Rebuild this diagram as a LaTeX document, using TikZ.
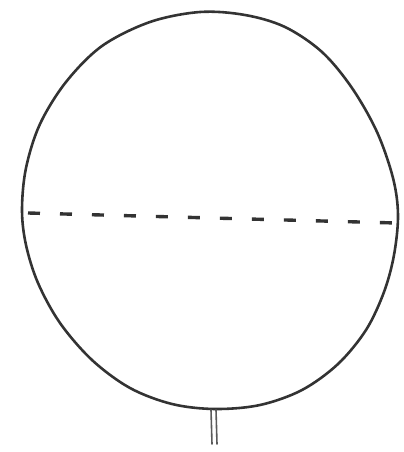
\documentclass[tikz,border=0pt]{standalone}
\usepackage{tikz}
\definecolor{cink}{HTML}{333333}
\definecolor{cstem}{HTML}{5A5A5A}
\tikzset{
  outline/.style={draw=cink, line width=2.6pt, line join=round},
  equator/.style={draw=cink, line width=3.4pt, dash pattern=on 12bp off 20bp},
  stemline/.style={draw=cstem, line width=1.6pt, line cap=round},
}
\begin{document}
\begin{tikzpicture}[x=1bp, y=-1bp]
  \useasboundingbox (0,0) rectangle (403,452);
  % balloon outline
  \draw[outline] plot[smooth cycle, tension=0.55] coordinates {
    (200,12) (245,15) (285,27) (322,52) (352,88) (377,132) (393,178)
    (398,215) (394,255) (384,292) (366,330) (338,364) (302,390) (260,405)
    (215,409) (172,404) (130,388) (92,360) (60,323) (38,283) (26,245)
    (22,210) (26,168) (40,124) (66,82) (102,46) (150,22)};
  % dashed line across
  \coordinate (eqL) at (28,213);
  \coordinate (eqR) at (396,223);
  \draw[equator] (eqL) -- (eqR);
  % stem
  \coordinate (stA) at (211,410);
  \coordinate (stB) at (216,410);
  \coordinate (stC) at (212,444);
  \coordinate (stD) at (217,444);
  \draw[stemline] (stA) -- (stC);
  \draw[stemline] (stB) -- (stD);
\end{tikzpicture}
\end{document}
